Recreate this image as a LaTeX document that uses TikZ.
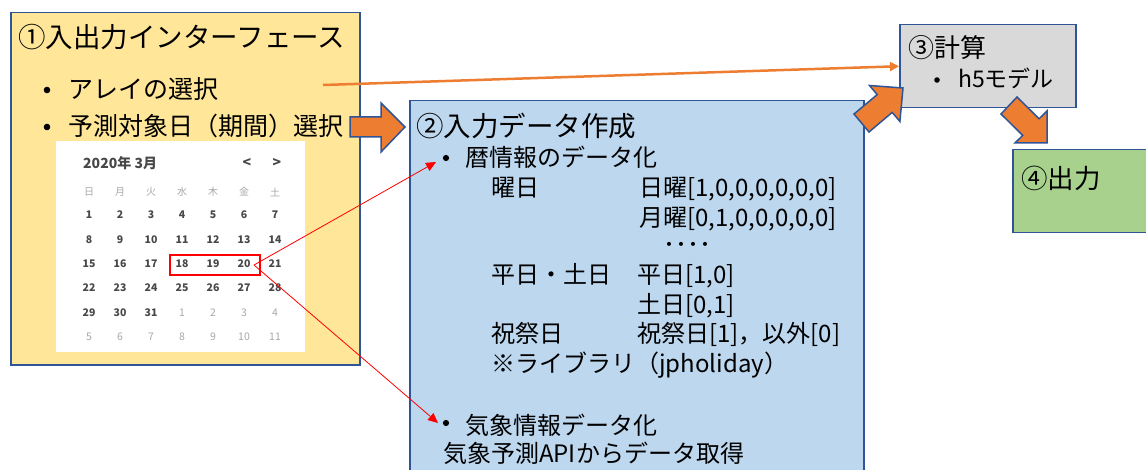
\documentclass[tikz,border=0pt]{standalone}
\usepackage{fontspec}
\setmainfont{Noto Sans CJK JP}
\usetikzlibrary{arrows.meta}
\definecolor{boxline}{HTML}{2F5597}
\definecolor{yel}{HTML}{FFE699}
\definecolor{blu}{HTML}{BDD7EE}
\definecolor{gry}{HTML}{D9D9D9}
\definecolor{grn}{HTML}{A9D18E}
\definecolor{org}{HTML}{ED7D31}
\definecolor{caldark}{HTML}{484848}
\definecolor{callight}{HTML}{A8A8A8}
\tikzset{
  panel/.style={draw=boxline, line width=1.5pt},
  blockarrow/.style={draw=boxline, fill=org, line width=1.5pt, line join=miter},
  txt/.style={anchor=base west, inner sep=0pt, text=black},
  big/.style={txt, font=\fontsize{25}{30}\selectfont},
  mid/.style={txt, font=\fontsize{24}{28}\selectfont},
  bul/.style={fill=black},
  calhead/.style={anchor=center, inner sep=0pt, text=caldark, font=\bfseries\fontsize{14}{16}\selectfont},
  calwd/.style={anchor=center, inner sep=0pt, text=callight, font=\fontsize{10}{12}\selectfont},
  calday/.style={anchor=center, inner sep=0pt, text=caldark, font=\bfseries\fontsize{10.5}{12}\selectfont},
  caloth/.style={anchor=center, inner sep=0pt, text=callight, font=\fontsize{10.5}{12}\selectfont},
  redarrow/.style={draw=red, line width=0.8pt, -{Triangle[length=10pt,width=9pt]}},
  orgarrow/.style={draw=org, line width=2.5pt, -{Triangle[length=9pt,width=9pt]}},
}
\begin{document}
\begin{tikzpicture}[x=1pt,y=-1pt]
\useasboundingbox (0,0) rectangle (1146,470);
% panels
\node[panel, fill=yel, minimum width=349pt, minimum height=352pt, anchor=north west, inner sep=0pt] (box1) at (10,12) {};
\node[panel, fill=blu, minimum width=454pt, minimum height=390pt, anchor=north west, inner sep=0pt] (box2) at (409,100) {};
\node[panel, fill=gry, minimum width=176pt, minimum height=83pt, anchor=north west, inner sep=0pt] (box3) at (899,24) {};
\node[panel, fill=grn, minimum width=160pt, minimum height=83pt, anchor=north west, inner sep=0pt] (box4) at (1012,149) {};

% box 1 texts
\node[big, font=\fontsize{27.5}{30}\selectfont] (t1) at (18,48) {①入出力インターフェース};
\fill[bul] (47,90) circle (3.3);
\node[big] (t1a) at (68,99) {アレイの選択};
\fill[bul] (47,127) circle (3.3);
\node[big] (t1b) at (68,136) {予測対象日（期間）選択};

% calendar
\node[fill=white, minimum width=249pt, minimum height=211pt, anchor=north west, inner sep=0pt] (cal) at (56,141) {};
\node[calhead, anchor=west] (calh) at (83,163) {2020年 3月};
\node[calhead] (calprev) at (247,163) {<};
\node[calhead] (calnext) at (277,163) {>};
\foreach \w [count=\i from 0] in {日,月,火,水,木,金,土}
  \node[calwd] (wd\i) at ({89+31*\i},192) {\w};
\foreach \d [count=\k from 0] in {1,...,31} {
  \pgfmathtruncatemacro{\col}{mod(\k,7)}
  \pgfmathtruncatemacro{\row}{div(\k,7)}
  \node[calday] (d\d) at ({89+31*\col},{215+24.35*\row}) {\d};
}
\foreach \d [count=\k from 31] in {1,2,3,4,5,6,7,8,9,10,11} {
  \pgfmathtruncatemacro{\col}{mod(\k,7)}
  \pgfmathtruncatemacro{\row}{div(\k,7)}
  \node[caloth] (n\d) at ({89+31*\col},{215+24.35*\row}) {\d};
}
\node[draw=red, line width=2.2pt, minimum width=90pt, minimum height=20pt, anchor=north west, inner sep=0pt] (sel) at (169,254) {};

% box 2 texts
\node[big, font=\fontsize{27.5}{30}\selectfont] (t2) at (416,137) {②入力データ作成};
\fill[bul] (446,158) circle (3.1);
\node[mid] (t2a) at (465,167) {暦情報のデータ化};
\node[mid] (t2b) at (491,197) {曜日};
\node[mid] (t2c) at (639,197) {日曜[1,0,0,0,0,0,0]};
\node[mid] (t2d) at (639,227) {月曜[0,1,0,0,0,0,0]};
\node[mid] (t2e) at (663,254) {････};
\node[mid] (t2f) at (491,284) {平日・土日};
\node[mid] (t2g) at (637,284) {平日[1,0]};
\node[mid] (t2h) at (637,314) {土日[0,1]};
\node[mid] (t2i) at (491,342) {祝祭日};
\node[mid] (t2j) at (637,342) {祝祭日[1]，以外[0]};
\node[mid] (t2k) at (491,372) {※ライブラリ（jpholiday）};
\fill[bul] (446,423) circle (3.1);
\node[mid] (t2l) at (465,434) {気象情報データ化};
\node[mid] (t2m) at (443,462) {気象予測APIからデータ取得};

% box 3 texts
\node[big, font=\fontsize{26}{30}\selectfont] (t3) at (908,58) {③計算};
\fill[bul] (937,80) circle (2.8);
\node[txt, font=\fontsize{23}{26}\selectfont] (t3a) at (958,88) {h5モデル};

% box 4 text
\node[big, font=\fontsize{26.5}{30}\selectfont] (t4) at (1021,189) {④出力};

% block arrows
\draw[blockarrow] (350,117) -- (381,117) -- (381,103) -- (405,127) -- (381,152) -- (381,137) -- (350,137) -- cycle;
\draw[blockarrow] (854,114) -- (877.2,94.6) -- (869.5,85.5) -- (903,88) -- (899.9,121.5) -- (892.2,112.4) -- (869,132) -- cycle;
\draw[blockarrow] (1017,97) -- (1039.1,118.8) -- (1047,111) -- (1047,143) -- (1015,143) -- (1022.7,135.4) -- (1001,114) -- cycle;

% thin connectors
\coordinate (ostart) at (323,85);
\draw[orgarrow] (ostart) -- (box3.west);
\coordinate (rstart) at (254,265);
\coordinate (rtip1) at (436,162);
\coordinate (rtip2) at (438,423);
\draw[redarrow] (rstart) -- (rtip1);
\draw[redarrow] (rstart) -- (rtip2);
\end{tikzpicture}
\end{document}
